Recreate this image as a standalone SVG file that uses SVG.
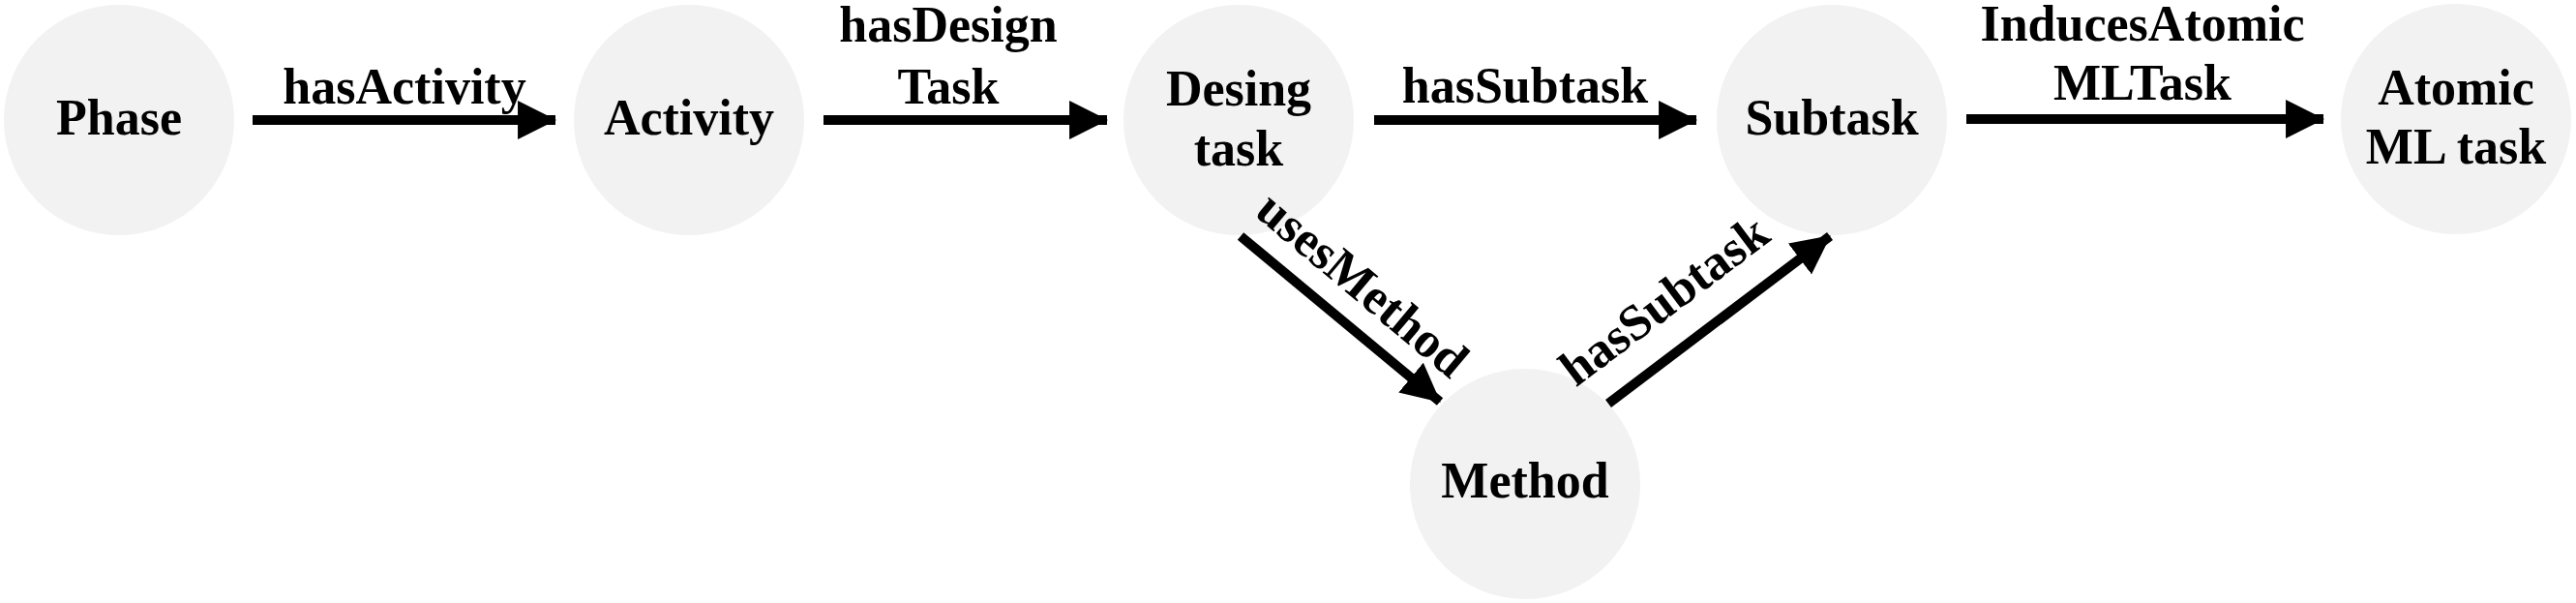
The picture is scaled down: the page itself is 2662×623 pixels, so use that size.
<svg xmlns="http://www.w3.org/2000/svg" width="2662" height="623" viewBox="0 0 2662 623">
<style>
.n{fill:#f2f2f2}
text{font-family:"Liberation Serif","Times New Roman",serif;font-weight:bold;font-size:52px;text-anchor:middle;fill:#000}
.c line{stroke:#000;stroke-width:10}
</style>
<defs>
<marker id="ah" markerUnits="userSpaceOnUse" markerWidth="40" markerHeight="40" viewBox="0 0 38 38" refX="37" refY="19" orient="auto">
<polygon points="0,0 38,19 0,38"/>
</marker>
</defs>
<rect width="2662" height="623" fill="#fff"/>
<g id="phase"><circle class="n" cx="123" cy="124" r="119"/><text x="123" y="139">Phase</text></g>
<g id="activity"><circle class="n" cx="712" cy="124" r="119"/><text x="712" y="139">Activity</text></g>
<g id="desing"><circle class="n" cx="1280" cy="124" r="119"/><text x="1280" y="109">Desing</text><text x="1280" y="171">task</text></g>
<g id="subtask"><circle class="n" cx="1893" cy="124" r="119"/><text x="1893" y="139">Subtask</text></g>
<g id="atomic"><circle class="n" cx="2538" cy="123" r="119"/><text x="2538" y="108">Atomic</text><text x="2538" y="169">ML task</text></g>
<g id="method"><circle class="n" cx="1576" cy="500" r="119"/><text x="1576" y="514">Method</text></g>
<g class="c" id="connectors">
<line x1="261" y1="124" x2="574" y2="124" marker-end="url(#ah)"/>
<line x1="851" y1="124" x2="1144" y2="124" marker-end="url(#ah)"/>
<line x1="1420" y1="124" x2="1753" y2="124" marker-end="url(#ah)"/>
<line x1="2032" y1="123" x2="2401" y2="123" marker-end="url(#ah)"/>
<line x1="1282" y1="244" x2="1488" y2="415" marker-end="url(#ah)"/>
<line x1="1662" y1="417" x2="1891" y2="244" marker-end="url(#ah)"/>
<text x="418" y="107">hasActivity</text>
<text x="980" y="43">hasDesign</text><text x="980" y="107">Task</text>
<text x="1576" y="106">hasSubtask</text>
<text x="2214" y="42">InducesAtomic</text><text x="2214" y="103">MLTask</text>
<text transform="translate(1397,307) rotate(40)">usesMethod</text>
<text transform="translate(1730,324) rotate(-37)">hasSubtask</text>
</g>
</svg>
